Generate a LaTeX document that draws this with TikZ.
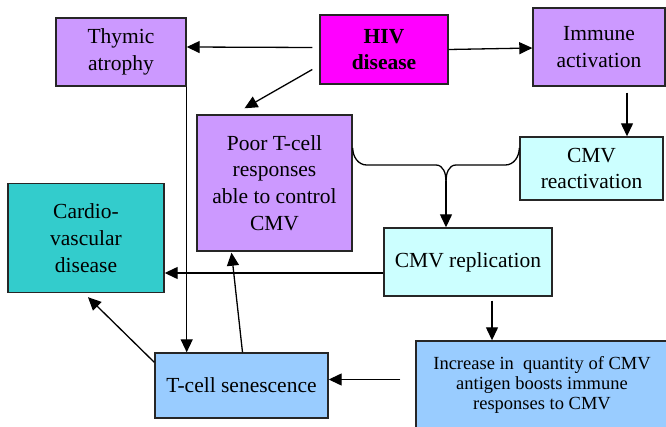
\documentclass[tikz,border=0pt]{standalone}
\usepackage{fontspec}
\setmainfont{Liberation Serif}
\usetikzlibrary{calc,arrows.meta}
\definecolor{lilac}{HTML}{CC99FF}
\definecolor{hivmag}{HTML}{FF00FF}
\definecolor{paleCyan}{HTML}{CCFFFF}
\definecolor{teal2}{HTML}{33CCCC}
\definecolor{skyb}{HTML}{99CCFF}
\tikzset{
  box/.style={draw=black!85,line width=1.4pt,inner sep=0pt,align=center,font=\fontsize{21.5}{26.7}\selectfont},
  arr/.style={line width=1.3pt,-{Triangle[length=13pt,width=12pt]}},
  ln/.style={line width=1.3pt}
}
\begin{document}
\begin{tikzpicture}[x=1pt,y=-1pt]
\useasboundingbox (0,0) rectangle (666,427);
\node[box,fill=lilac,minimum width=130pt,minimum height=68pt] (Thym) at (121,52) {Thymic\\atrophy};
\node[box,fill=hivmag,minimum width=128pt,minimum height=69pt,font=\fontsize{21.5}{26.7}\selectfont\bfseries] (HIV) at (384,49.5) {HIV\\disease};
\node[box,fill=lilac,minimum width=132pt,minimum height=78pt] (Imm) at (599,47) {Immune\\activation};
\node[box,fill=lilac,minimum width=155pt,minimum height=136pt] (Poor) at (274.5,183) {Poor T-cell\\responses\\able to control\\CMV};
\node[box,fill=paleCyan,minimum width=143pt,minimum height=63pt] (CMVre) at (591.5,168.5) {CMV\\reactivation};
\node[box,fill=teal2,minimum width=156pt,minimum height=109pt] (Card) at (86,238) {Cardio-\\vascular\\disease};
\node[box,fill=paleCyan,minimum width=168pt,minimum height=68pt] (CMVrep) at (468,262) {CMV replication};
\node[box,fill=skyb,minimum width=252pt,minimum height=89pt,font=\fontsize{18.5}{21}\selectfont] (Inc) at (542,385.5) {\raisebox{4pt}{\begin{tabular}{@{}c@{}}Increase in\ \ quantity of CMV\\[-1pt]antigen boosts immune\\[-1pt]responses to CMV\end{tabular}}};
\node[box,fill=skyb,minimum width=173pt,minimum height=65pt] (Tsen) at (241.5,385.5) {T-cell senescence};

\draw[arr] ($(HIV.west)+(-7,-2)$) -- ($(Thym.east)+(0,-5)$);
\draw[arr] ($(HIV.west)+(-7,20)$) -- ($(Poor.north)+(-30,-6)$);
\draw[arr] (HIV.east) -- ($(Imm.west)+(0,1)$);
\coordinate (ia) at ($(Imm.south)+(28,6)$);
\draw[arr] (ia) -- (ia |- CMVre.north);
\coordinate (bl) at ($(Poor.east)+(0,-35)$);
\coordinate (br) at ($(CMVre.west)+(0,-20.5)$);
\coordinate (bm) at (446,181);
\draw[ln] (bl) to[out=-90,in=180] ($(bl)+(14,17)$) -- ($(bm)+(-10,-16)$) to[out=0,in=90] (bm);
\draw[ln] (br) to[out=-90,in=0] ($(br)+(-14,17)$) -- ($(bm)+(10,-16)$) to[out=180,in=90] (bm);
\draw[arr] (bm) -- (bm |- CMVrep.north);
\coordinate (rc) at ($(CMVrep.west)+(0,11)$);
\draw[arr] (rc) -- (Card.east |- rc);
\coordinate (ri) at ($(CMVrep.south)+(24,4)$);
\draw[arr] (ri) -- (ri |- Inc.north);
\coordinate (it) at ($(Inc.west)+(-15,-6)$);
\draw[arr] (it) -- (Tsen.east |- it);
\draw[arr] (Thym.south east) -- (Thym.south east |- Tsen.north);
\draw[arr] ($(Tsen.north)+(1,0)$) -- ($(Poor.south)+(-43,1)$);
\draw[arr] ($(Tsen.north west)+(0,10)$) -- ($(Card.south)+(2,4)$);
\end{tikzpicture}
\end{document}
